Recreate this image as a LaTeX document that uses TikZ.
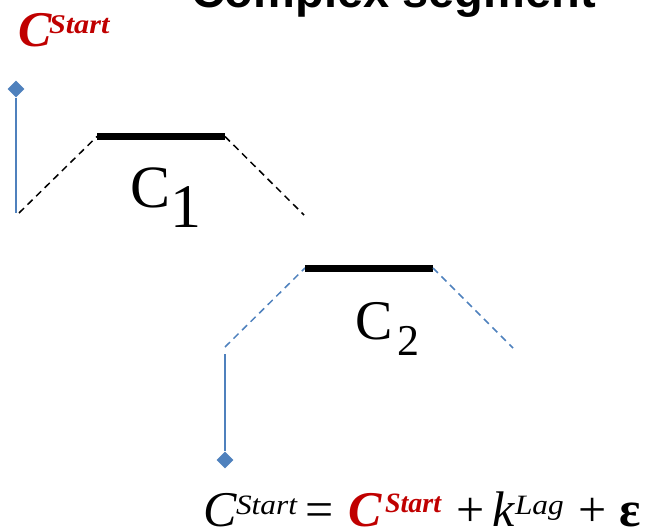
\documentclass[tikz,border=0pt]{standalone}
\usepackage{fontspec}
\setmainfont{Liberation Serif}
\newfontfamily\titlefont{Liberation Sans}
\usetikzlibrary{shapes.geometric}
\definecolor{segblue}{HTML}{4F81BD}
\definecolor{startred}{HTML}{C00000}
\newcommand{\bigsz}{\fontsize{50}{50}\selectfont}
\newcommand{\supsz}{\fontsize{28}{28}\selectfont}
\newcommand{\wide}[1]{\scalebox{1.12}[1]{#1}}
\tikzset{
  lbl/.style={inner sep=0pt, outer sep=0pt, anchor=base west},
  bluestem/.style={draw=segblue, line width=2pt},
  diam/.style={diamond, fill=segblue, inner sep=0pt, minimum size=17pt},
  blackdash/.style={draw=black, line width=1.5pt, dash pattern=on 7pt off 5pt},
  bluedash/.style={draw=segblue, line width=1.5pt, dash pattern=on 7pt off 5pt},
  core/.style={draw=black, line width=7pt},
}
\begin{document}
\begin{tikzpicture}[x=1pt,y=-1pt]
\useasboundingbox (0,0) rectangle (652,530);

% title (cut off at top)
\node[lbl, font=\titlefont\bfseries\fontsize{47}{47}\selectfont] (title) at (191,7) {Complex segment};

% top-left label
\node[lbl, text=startred, font=\bfseries\itshape\fontsize{50}{50}\selectfont] (cs) at (18,46) {C};
\node[lbl, text=startred, font=\bfseries\itshape\fontsize{27}{27}\selectfont] (cst) at (49,33) {\wide{Start}};

% segment 1
\coordinate (s1) at (16,213);
\node[diam] (dia1) at (16,89) {};
\draw[bluestem] (dia1.south) -- (s1);
\coordinate (a1) at (19,213);
\coordinate (b1) at (97,136.5);
\coordinate (c1) at (225,136.5);
\coordinate (e1) at (304,215);
\draw[blackdash] (a1) -- (b1);
\draw[core] (b1) -- (c1);
\draw[blackdash] (c1) -- (e1);
\node[lbl, font=\fontsize{60}{60}\selectfont] (C1) at (130,207) {C};
\node[lbl, font=\fontsize{62}{62}\selectfont] (C1s) at (170,227) {1};

% segment 2
\coordinate (a2) at (225,347);
\coordinate (b2) at (305,268);
\coordinate (c2) at (433,268);
\coordinate (e2) at (513,348);
\draw[bluedash] (a2) -- (b2);
\draw[core] (b2) -- (c2);
\draw[bluedash] (c2) -- (e2);
\coordinate (t2) at (225,354);
\node[diam] (dia2) at (225,460) {};
\draw[bluestem] (t2) -- (dia2.north);
\node[lbl, font=\fontsize{56}{56}\selectfont] (C2) at (355,339) {C};
\node[lbl, font=\fontsize{44}{44}\selectfont] (C2s) at (397,355) {2};

% equation
\node[lbl, font=\bigsz\itshape] (e1C) at (203,526) {C};
\node[lbl, font=\supsz\itshape] (e1S) at (236,514) {\wide{Start}};
\node[lbl, font=\bigsz] (eq) at (305,526) {=};
\node[lbl, text=startred, font=\bigsz\bfseries\itshape] (e2C) at (348,526) {C};
\node[lbl, text=startred, font=\supsz\bfseries\itshape] (e2S) at (385,512) {Start};
\node[lbl, font=\bigsz] (p1) at (456,526) {+};
\node[lbl, font=\bigsz\itshape] (ek) at (492,526) {k};
\node[lbl, font=\supsz\itshape] (eL) at (515,514) {\wide{Lag}};
\node[lbl, font=\bigsz] (p2) at (578,526) {+};
\node[lbl, font=\bigsz\bfseries] (eps) at (619,526) {ε};
\end{tikzpicture}
\end{document}
